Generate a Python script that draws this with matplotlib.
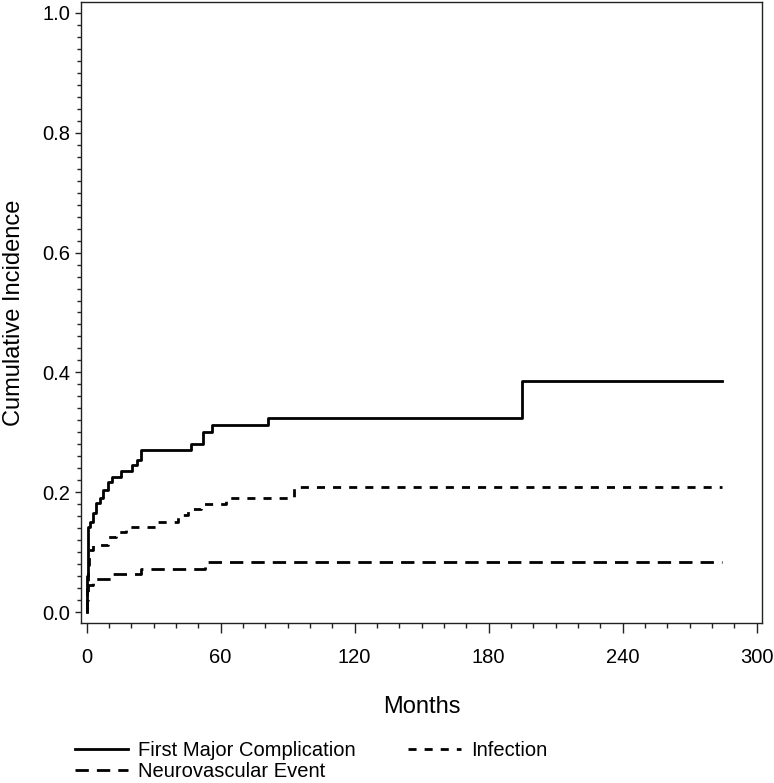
import matplotlib
matplotlib.use("Agg")
import matplotlib.pyplot as plt
from matplotlib.lines import Line2D
from matplotlib.ticker import MultipleLocator

plt.rcParams['font.family'] = ['Liberation Sans', 'DejaVu Sans']
plt.rcParams['lines.scale_dashes'] = False

# cumulative incidence step curves (months, value after step)
fmc_t = [0, 0.2, 0.4, 0.8, 1.5, 2.7, 4.3, 5.8, 7.3, 9.5, 11.5, 15.5, 20.4, 22.5, 24.5,
         46.9, 52.1, 56.3, 81.2, 194.8, 284.4]
fmc_y = [0, 0.06, 0.12, 0.142, 0.15, 0.165, 0.182, 0.19, 0.203, 0.217, 0.225, 0.235, 0.245,
         0.253, 0.27, 0.281, 0.30, 0.312, 0.324, 0.385, 0.385]

inf_t = [0, 0.2, 0.5, 1.0, 3.0, 9.5, 13.3, 17.8, 31.2, 41.0, 45.5, 51.0, 62.5, 93.0, 284.4]
inf_y = [0, 0.05, 0.078, 0.103, 0.112, 0.125, 0.133, 0.142, 0.15, 0.162, 0.172, 0.181,
         0.191, 0.208, 0.208]

neu_t = [0, 0.2, 0.5, 3.0, 11.0, 24.5, 53.0, 284.4]
neu_y = [0, 0.02, 0.045, 0.055, 0.063, 0.072, 0.084, 0.084]

labels = ["First Major Complication", "Neurovascular Event", "Infection"]

fig = plt.figure(figsize=(7.74, 7.83), dpi=100)
ax = fig.add_axes([81 / 774, 1 - 623 / 783, 681 / 774, 621 / 783])

lw = 2.0
solid = '-'
long_dash = (0, (9.6, 5.8))
short_dash = (0, (5.8, 5.8))

ax.step(fmc_t, fmc_y, where='post', color='black', lw=lw, ls=solid)
ax.step(neu_t, neu_y, where='post', color='black', lw=lw, ls=long_dash)
ax.step(inf_t, inf_y, where='post', color='black', lw=lw, ls=short_dash)

ax.set_xlim(-2.55, 302.4)
ax.set_ylim(-0.0183, 1.0183)
ax.xaxis.set_major_locator(MultipleLocator(60))
ax.xaxis.set_minor_locator(MultipleLocator(10))
ax.yaxis.set_major_locator(MultipleLocator(0.2))
ax.yaxis.set_minor_locator(MultipleLocator(0.02))
ax.yaxis.set_major_formatter(matplotlib.ticker.FormatStrFormatter('%.1f'))

for s in ax.spines.values():
    s.set_linewidth(1.0)
    s.set_color('#222222')

ax.tick_params(axis='x', which='major', direction='out', length=7.2, width=1.0,
               labelsize=14.5, pad=11, color='#222222')
ax.tick_params(axis='x', which='minor', direction='out', length=3.6, width=1.0,
               color='#222222')
ax.tick_params(axis='y', which='major', direction='out', length=4.3, width=1.0,
               labelsize=14.5, pad=3.6, color='#222222')
ax.tick_params(axis='y', which='minor', direction='out', length=3.0, width=1.0,
               color='#222222')

ax.set_xlabel("Months", fontsize=17)
ax.set_ylabel("Cumulative Incidence", fontsize=17)
ax.xaxis.set_label_coords(0.5, -0.118)
ax.yaxis.set_label_coords(-0.082, 0.5)

handles = [Line2D([], [], color='black', lw=lw, ls=solid),
           Line2D([], [], color='black', lw=lw, ls=long_dash),
           Line2D([], [], color='black', lw=lw, ls=short_dash)]
fig.legend(handles, labels, ncol=2, loc='upper left',
           bbox_to_anchor=(75 / 774, 1 - 741 / 783), frameon=False,
           fontsize=14.5, handlelength=2.63, handletextpad=0.5,
           columnspacing=2.6, labelspacing=0.1, borderpad=0, borderaxespad=0)

fig.savefig("out.png", dpi=100)
